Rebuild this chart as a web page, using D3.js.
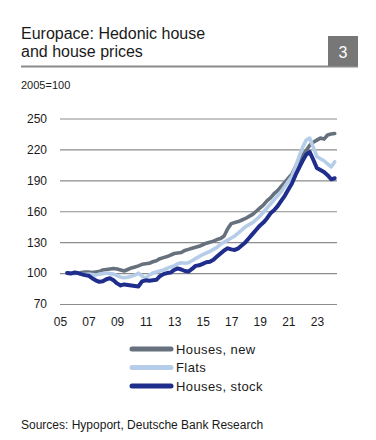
<!DOCTYPE html>
<html>
<head>
<meta charset="utf-8">
<script src="https://cdn.jsdelivr.net/npm/d3@7"></script>
<style>
  body { margin: 0; background: #fff; }
  text { font-family: "Liberation Sans", Arial, sans-serif; fill: #1a1a1a; }
</style>
</head>
<body>
<div id="chart"></div>
<script>
// quarterly observations, first one = 2005 Q3
const startYear = 2005.5;
const step = 0.25;

const housesNew = [
  100, 100, 100.5, 100, 100.5, 101, 101, 100.5,
  101, 101.5, 103, 103.5, 104, 104.5, 104, 103,
  102, 103.5, 105, 106, 107, 108.5, 109, 109.5,
  111, 112, 114, 115, 116, 117.5, 119, 119.5,
  120, 122, 123, 124, 125, 126, 127.5, 129,
  130, 131, 132.5, 133.5, 136, 143, 148, 149,
  150, 151.5, 153, 155, 157, 160, 163, 166,
  170, 173, 177, 180, 184, 188, 192, 196,
  203, 209, 214, 219, 224, 227, 229, 231,
  230, 234, 235, 235.5
];
const flats = [
  100, 100, 99.5, 100, 99, 98.5, 99, 98.5,
  98, 99, 99.5, 100, 99.5, 99, 97.5, 96,
  95.5, 96, 97, 98, 100, 97, 95, 98,
  100, 101, 102, 103, 104.5, 106, 107, 109,
  110, 109.5, 110, 112, 114, 116, 118, 119.5,
  121, 123, 125, 128, 130, 132, 134, 136,
  139, 142, 145, 147, 149, 152, 155, 159,
  163, 167, 171, 175, 179, 184, 189, 194,
  203, 213, 222, 229, 231, 222, 213, 211,
  209, 206, 203, 208
];
const housesStock = [
  100, 99.5, 100.5, 100, 99, 98, 97.5, 95,
  93, 91.5, 92, 94, 95, 93, 90, 88,
  89, 88.5, 88, 87.5, 87, 92, 93, 92.5,
  93, 93.5, 97, 99, 100, 100.5, 103, 104.5,
  103.5, 102, 101.5, 104, 107, 107.5, 109, 110.5,
  111, 113, 116, 119, 122, 124, 123, 122.5,
  124, 127, 130, 134, 138, 142, 146, 149,
  153, 158, 161, 165, 170, 175, 181, 187,
  195, 202, 209, 215, 217.5, 210, 202, 200,
  198, 195, 191, 192
];

const seriesNames = ["Houses, new", "Flats", "Houses, stock"];
const seriesColors = ["#66717d", "#b5cde8", "#1f2e8c"];
const seriesData = [housesNew, flats, housesStock];

const yTicks = [70, 100, 130, 160, 190, 220, 250];
const xTicks = [2005, 2007, 2009, 2011, 2013, 2015, 2017, 2019, 2021, 2023];

const width = 376, height = 440;

const svg = d3.select("#chart").append("svg")
  .attr("width", width)
  .attr("height", height);

// title block
svg.append("text").attr("x", 21).attr("y", 39)
  .style("font-size", "16px").text("Europace: Hedonic house");
svg.append("text").attr("x", 21).attr("y", 57)
  .style("font-size", "16px").text("and house prices");
svg.append("line")
  .attr("x1", 21).attr("x2", 358).attr("y1", 66.5).attr("y2", 66.5)
  .attr("stroke", "#8a8a8a").attr("stroke-width", 2);
svg.append("rect")
  .attr("x", 328).attr("y", 36).attr("width", 30).attr("height", 30)
  .attr("fill", "#777");
svg.append("text").attr("x", 343).attr("y", 58)
  .attr("text-anchor", "middle")
  .style("font-size", "16px").style("fill", "#fff").text("3");

svg.append("text").attr("x", 21).attr("y", 89)
  .style("font-size", "11px").text("2005=100");

// scales
const x = d3.scaleLinear().domain([2005, 2024.34]).range([60, 336]);
const y = d3.scaleLinear().domain([70, 250]).range([304, 118.5]);

// grid
const yAxis = svg.append("g")
  .attr("transform", "translate(60,0)")
  .call(d3.axisLeft(y).tickValues(yTicks).tickSize(-277).tickPadding(13));
yAxis.select(".domain").remove();
yAxis.selectAll(".tick line").attr("stroke", "#8c8c8c").attr("stroke-width", 1.2);
yAxis.selectAll(".tick text")
  .style("font-size", "12px").style("font-family", "Liberation Sans, Arial, sans-serif")
  .attr("fill", "#1a1a1a");

const xAxis = svg.append("g")
  .attr("transform", "translate(0,314)")
  .call(d3.axisBottom(x).tickValues(xTicks).tickSize(0).tickPadding(3)
    .tickFormat(d => String(d % 100).padStart(2, "0")));
xAxis.select(".domain").remove();
xAxis.selectAll(".tick text")
  .style("font-size", "12px").style("font-family", "Liberation Sans, Arial, sans-serif")
  .attr("fill", "#1a1a1a");

// lines
const line = d3.line()
  .x((d, i) => x(startYear + i * step))
  .y(d => y(d));

svg.append("g").selectAll("path")
  .data(seriesData)
  .join("path")
  .attr("d", d => line(d))
  .attr("fill", "none")
  .attr("stroke", (d, i) => seriesColors[i])
  .attr("stroke-width", (d, i) => i === 2 ? 4 : 3.6)
  .attr("stroke-linejoin", "round")
  .attr("stroke-linecap", "round");

// legend
const legend = svg.append("g").selectAll("g")
  .data(seriesNames)
  .join("g")
  .attr("transform", (d, i) => "translate(130," + (349 + i * 18.5) + ")");
legend.append("line")
  .attr("x1", 2).attr("x2", 41)
  .attr("stroke", (d, i) => seriesColors[i])
  .attr("stroke-width", 5)
  .attr("stroke-linecap", "round");
legend.append("text")
  .attr("x", 46).attr("y", 4.5)
  .style("font-size", "13px")
  .style("letter-spacing", "0.4px")
  .text(d => d);

svg.append("text").attr("x", 21).attr("y", 429)
  .style("font-size", "12px").text("Sources: Hypoport, Deutsche Bank Research");
</script>
</body>
</html>
